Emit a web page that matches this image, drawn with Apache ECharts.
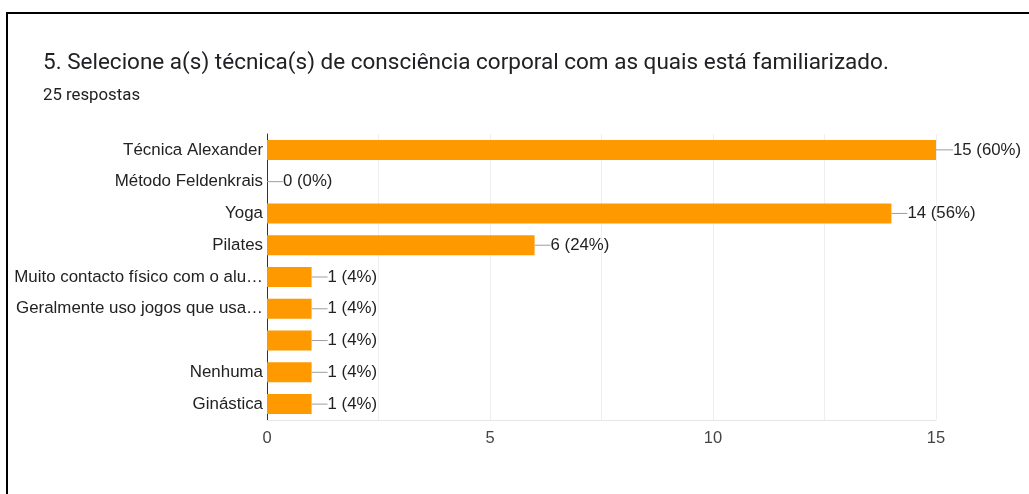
<!DOCTYPE html>
<html>
<head>
<meta charset="utf-8">
<script src="https://cdn.jsdelivr.net/npm/echarts@6/dist/echarts.min.js"></script>
<style>
  html, body { margin: 0; padding: 0; background: #fff; }
  #chart { width: 1029px; height: 494px; }
</style>
</head>
<body>
<div id="chart"></div>
<script>
const TITLE = "5. Selecione a(s) técnica(s) de consciência corporal com as quais está familiarizado.";
const SUBTITLE = "25 respostas";
const TOTAL = 25;

const CATEGORIES = [
  "Técnica Alexander",
  "Método Feldenkrais",
  "Yoga",
  "Pilates",
  "Muito contacto físico com o alu…",
  "Geralmente uso jogos que usa…",
  " ",
  "Nenhuma",
  "Ginástica",
];
const COUNTS = [15, 0, 14, 6, 1, 1, 1, 1, 1];
const X_TICKS = [0, 5, 10, 15];

const chart = echarts.init(document.getElementById("chart"), null, { renderer: "canvas" });

chart.setOption({
  backgroundColor: "#fff",
  animation: false,
  textStyle: { fontFamily: "Liberation Sans, Arial, sans-serif" },
  title: [
    {
      text: TITLE,
      left: 43,
      top: 52,
      padding: 0,
      textStyle: { fontFamily: "Roboto", fontSize: 22.5, fontWeight: "normal", color: "#202124" },
    },
    {
      text: SUBTITLE,
      left: 43,
      top: 87,
      padding: 0,
      textStyle: { fontFamily: "Roboto", fontSize: 16.8, fontWeight: "normal", color: "#202124" },
    },
  ],
  graphic: [
    {
      type: "rect",
      silent: true,
      shape: { x: 7, y: 13, width: 1100, height: 600 },
      style: { fill: "none", stroke: "#000", lineWidth: 2 },
    },
  ],
  grid: { left: 267, right: 93, top: 134, bottom: 74, containLabel: false },
  xAxis: {
    type: "value",
    min: 0,
    max: 15,
    interval: 2.5,
    axisLine: { show: true, lineStyle: { color: "#e6e6e6" } },
    axisTick: { show: false },
    axisLabel: {
      color: "#444",
      fontSize: 16.5,
      margin: 10,
      formatter: (v) => (X_TICKS.includes(v) ? String(v) : ""),
    },
    splitLine: { show: true, lineStyle: { color: "#eeeeee" } },
  },
  yAxis: {
    type: "category",
    inverse: true,
    data: CATEGORIES,
    axisLine: { show: true, lineStyle: { color: "#333", width: 1 } },
    axisTick: { show: false },
    axisLabel: { color: "#222", fontSize: 16.9, margin: 4 },
    splitLine: { show: false },
  },
  series: [
    {
      type: "bar",
      data: COUNTS,
      barWidth: 20,
      itemStyle: { color: "#ff9900" },
      label: {
        show: true,
        position: "right",
        distance: 0,
        color: "#222",
        fontSize: 16.8,
        formatter: (p) => `${p.value} (${Math.round((p.value / TOTAL) * 100)}%)`,
      },
      labelLayout: (p) => ({ dx: p.dataIndex === 0 ? 17 : 16 }),
      labelLine: { show: true, lineStyle: { color: "#9e9e9e", width: 1 } },
    },
  ],
});
</script>
</body>
</html>
